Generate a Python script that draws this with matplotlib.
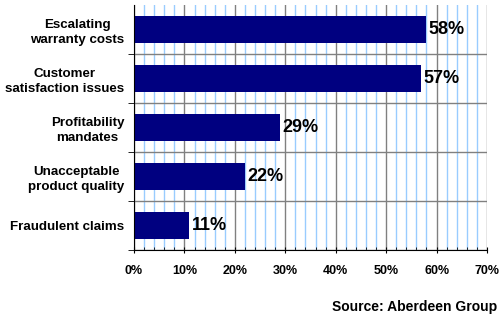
import numpy as np
import matplotlib
matplotlib.use("Agg")
import matplotlib.pyplot as plt
from matplotlib.ticker import MultipleLocator, FuncFormatter

# data
categories = ["Escalating\nwarranty costs", "Customer\nsatisfaction issues",
              "Profitability\nmandates", "Unacceptable\nproduct quality",
              "Fraudulent claims"]
values = [58, 57, 29, 22, 11]
source = "Source: Aberdeen Group"

plt.rcParams['font.family'] = ['Liberation Sans', 'DejaVu Sans']

fig = plt.figure(figsize=(5, 3.25), dpi=100)
ax = fig.add_axes([0.268, 0.2308, 0.706, 0.754])

y = np.arange(len(categories))[::-1]
ax.barh(y, values, height=0.55, color='#000080', zorder=3)

for yi, v in zip(y, values):
    ax.text(v + 0.4, yi, f"{v}%", va='center', ha='left',
            fontsize=13, fontweight='bold', zorder=4)

ax.set_xlim(0, 70)
ax.set_ylim(-0.5, len(categories) - 0.5)

# x grid: light blue every 2%, gray every 10%
ax.xaxis.set_major_locator(MultipleLocator(10))
ax.xaxis.set_minor_locator(MultipleLocator(2))
ax.xaxis.set_major_formatter(FuncFormatter(lambda x, p: f"{int(x)}%"))
ax.grid(which='minor', axis='x', color='#99CCFF', linewidth=1, zorder=0)
ax.grid(which='major', axis='x', color='#808080', linewidth=1, zorder=1)

# y: labels at bars, gray separators between categories
ax.set_yticks(y)
ax.set_yticklabels(categories)
ax.set_yticks(np.arange(-0.5, len(categories) - 0.5, 1.0), minor=True)
ax.grid(which='minor', axis='y', color='#808080', linewidth=1, zorder=1)
ax.tick_params(axis='y', which='major', length=0, pad=7)
ax.tick_params(axis='y', which='minor', length=4, direction='out', color='black')
for lbl in ax.get_yticklabels():
    lbl.set_multialignment('center')
    lbl.set_linespacing(1.35)
    lbl.set_fontsize(9.6)
    lbl.set_fontweight('bold')

ax.tick_params(axis='x', which='major', length=4, direction='inout', color='black', pad=9)
ax.tick_params(axis='x', which='minor', length=2, direction='in', color='black')
for lbl in ax.get_xticklabels():
    lbl.set_fontsize(9)
    lbl.set_fontweight('bold')

for s in ['top', 'right']:
    ax.spines[s].set_visible(False)
for s in ['left', 'bottom']:
    ax.spines[s].set_color('black')
    ax.spines[s].set_zorder(5)

fig.text(0.994, 0.055, source, ha='right', va='center', fontsize=10, fontweight='bold')

fig.savefig("out.png", dpi=100)
